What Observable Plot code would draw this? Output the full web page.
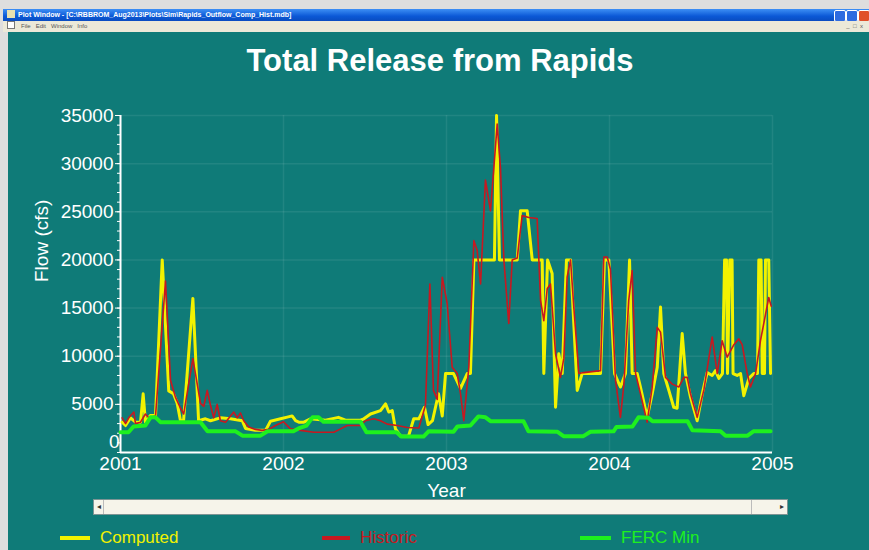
<!DOCTYPE html>
<html><head><meta charset="utf-8">
<script src="https://cdn.jsdelivr.net/npm/d3@7"></script>
<script src="https://cdn.jsdelivr.net/npm/@observablehq/plot@0.6"></script>
<style>
body{margin:0;background:#dcdcdc;}
#wrap{position:relative;width:869px;height:550px;overflow:hidden;background:#dedede;font-family:"Liberation Sans",Arial,sans-serif;}
#titlebar{position:absolute;left:3px;top:9px;width:866px;height:12px;background:linear-gradient(#3d8ff5,#0b58d6 60%,#0a4cc0);color:#fff;font-size:7px;font-weight:bold;line-height:12px;white-space:nowrap;}
#titlebar .ico{display:inline-block;width:8px;height:8px;background:#e8e0b0;margin:0 3px 0 4px;vertical-align:-1px;}
#menubar{position:absolute;left:3px;top:21px;width:866px;height:11px;background:#ece9d8;color:#555;font-size:6px;line-height:11px;white-space:nowrap;}
#menubar .ico{display:inline-block;width:6px;height:6px;border:1px solid #777;background:#fff;margin:0 6px 0 4px;vertical-align:-1px;}
#teal{position:absolute;left:8px;top:32px;right:0;bottom:0;background:#0f7b78;}
.btn{position:absolute;top:10px;width:10px;height:10px;border:1px solid #fff;border-radius:2px;background:#2d6be0;}
#title{position:absolute;left:0;width:880px;top:45px;text-align:center;color:#fff;font-size:31px;font-weight:bold;line-height:31px;}
#chart{position:absolute;left:0;top:90px;}
#scroll{position:absolute;left:93px;top:499px;width:695px;height:16px;background:#f6f4ea;border:1px solid #7d9494;box-sizing:border-box;}
#scroll .l{position:absolute;left:0;top:0;width:9px;height:14px;border-right:1px solid #bbb;font-size:8px;color:#333;text-align:center;line-height:14px;}
#scroll .r{position:absolute;left:657px;top:0;width:36px;height:14px;border-left:1px solid #bbb;font-size:8px;color:#333;text-align:right;line-height:14px;padding-right:3px;box-sizing:border-box;}
.leg{position:absolute;top:528px;font-size:17px;line-height:20px;white-space:nowrap;}
.sw{position:absolute;top:536px;height:4px;}
</style></head>
<body>
<div id="wrap">
  <div id="titlebar"><span class="ico"></span>Plot Window - [C:\RBBROM_Aug2013\Plots\Sim\Rapids_Outflow_Comp_Hist.mdb]</div>
  <div class="btn" style="left:834px"></div>
  <div class="btn" style="left:846px"></div>
  <div class="btn" style="left:858px;background:#e0502a"></div>
  <div id="menubar"><span class="ico"></span>File&nbsp;&nbsp;&nbsp;Edit&nbsp;&nbsp;&nbsp;Window&nbsp;&nbsp;&nbsp;Info<span style="position:absolute;right:6px">_&nbsp;&nbsp;&#9633;&nbsp;&nbsp;x</span></div>
  <div id="teal"></div>
  <div id="title">Total Release from Rapids</div>
  <div id="chart"></div>
  <div id="scroll"><div class="l">&#9666;</div><div class="r">&#9656;</div></div>
  <div class="sw" style="left:60px;width:30px;background:#f2f200"></div>
  <div class="leg" style="left:100px;color:#f2f200">Computed</div>
  <div class="sw" style="left:322px;width:28px;background:#c81820"></div>
  <div class="leg" style="left:360px;color:#c81820">Historic</div>
  <div class="sw" style="left:580px;width:31px;background:#1ef01e"></div>
  <div class="leg" style="left:621px;color:#1ef01e">FERC Min</div>
</div>
<script>
// ---- data (decimal year, flow in cfs) ----
const seriesNames = ["Computed", "Historic", "FERC Min"];
const yearTicks = [2001, 2002, 2003, 2004, 2005];
const flowTicks = [0, 5000, 10000, 15000, 20000, 25000, 30000, 35000];

const computedYear = [2001.010,2001.031,2001.061,2001.092,2001.123,2001.139,2001.153,2001.184,2001.215,2001.256,2001.296,2001.325,2001.348,2001.368,2001.387,2001.444,2001.479,2001.521,2001.552,2001.613,2001.675,2001.747,2001.767,2001.828,2001.890,2001.920,2001.982,2002.023,2002.053,2002.074,2002.094,2002.125,2002.166,2002.258,2002.337,2002.380,2002.472,2002.493,2002.534,2002.595,2002.626,2002.646,2002.667,2002.687,2002.718,2002.767,2002.799,2002.830,2002.865,2002.887,2002.914,2002.951,2002.974,2002.994,2003.043,2003.086,2003.127,2003.147,2003.168,2003.294,2003.307,2003.325,2003.434,2003.454,2003.495,2003.526,2003.587,2003.597,2003.620,2003.648,2003.669,2003.689,2003.710,2003.736,2003.761,2003.802,2003.832,2003.945,2003.969,2003.996,2004.031,2004.067,2004.098,2004.123,2004.139,2004.170,2004.190,2004.231,2004.262,2004.293,2004.313,2004.333,2004.364,2004.394,2004.415,2004.446,2004.466,2004.497,2004.538,2004.569,2004.599,2004.630,2004.650,2004.671,2004.693,2004.706,2004.718,2004.724,2004.738,2004.752,2004.758,2004.783,2004.804,2004.824,2004.855,2004.885,2004.908,2004.916,2004.930,2004.937,2004.951,2004.957,2004.977,2004.988];
const computedFlow = [3150,2800,3600,3150,3150,6100,3150,3850,3850,20000,6400,6100,5100,3300,3300,16000,3300,3500,3300,3600,3500,3300,2500,2300,2300,3250,3500,3670,3800,3300,3150,3150,3500,3350,3650,3350,3350,3500,4000,4350,5050,4200,4350,2450,1700,1700,3500,3500,4700,2900,3300,6100,3800,8200,8200,6650,8200,8200,20000,20000,35000,20000,20000,25100,25100,20000,20000,8200,20000,18600,4700,10250,8200,20000,20000,6450,8200,8200,20000,20000,8200,6800,8200,20000,8200,8200,6800,3650,6100,8850,15100,8200,6450,4700,4600,12350,8200,5750,3300,6100,8300,8000,8500,7700,8200,20000,20000,8200,20000,20000,8200,8000,8200,5900,7700,8200,8200,20000,20000,8200,8200,20000,20000,8200];

const historicYear = [2001.010,2001.031,2001.051,2001.082,2001.092,2001.123,2001.153,2001.174,2001.215,2001.276,2001.307,2001.337,2001.368,2001.388,2001.444,2001.491,2001.511,2001.532,2001.552,2001.572,2001.593,2001.613,2001.644,2001.695,2001.716,2001.736,2001.756,2001.787,2001.828,2001.869,2001.910,2001.951,2002.000,2002.043,2002.104,2002.186,2002.309,2002.350,2002.391,2002.472,2002.503,2002.554,2002.595,2002.636,2002.698,2002.759,2002.830,2002.871,2002.898,2002.920,2002.943,2002.974,2003.004,2003.035,2003.066,2003.086,2003.106,2003.137,2003.168,2003.188,2003.209,2003.239,2003.270,2003.311,2003.331,2003.352,2003.382,2003.403,2003.434,2003.464,2003.505,2003.556,2003.577,2003.597,2003.618,2003.638,2003.669,2003.699,2003.720,2003.740,2003.761,2003.781,2003.812,2003.842,2003.945,2003.965,2003.986,2004.006,2004.037,2004.067,2004.088,2004.118,2004.139,2004.160,2004.190,2004.231,2004.262,2004.293,2004.313,2004.344,2004.385,2004.425,2004.456,2004.477,2004.497,2004.538,2004.579,2004.630,2004.661,2004.691,2004.722,2004.763,2004.793,2004.814,2004.845,2004.865,2004.896,2004.926,2004.977,2004.992];
const historicFlow = [3600,3000,3600,4200,3000,3150,4000,3600,3800,17800,7500,5750,4600,4000,9750,5100,4800,6450,4900,3600,5000,3300,3150,4200,3600,4100,3300,2650,2400,2300,2400,2800,3200,2450,2300,2100,2100,2450,2800,2800,3300,3500,3300,2950,2800,2600,2550,4900,17500,6450,5500,18200,15500,8850,8200,6100,3300,8850,22000,21000,17500,28300,25100,34100,29600,20000,13400,20000,20200,24600,24400,24300,15800,13700,17000,17500,10250,7800,9800,18200,20000,15100,8200,8300,8500,20300,20300,19000,7500,3650,7000,15800,18900,8200,6100,3150,6800,13000,12500,7800,7100,6800,7800,7800,6100,3650,6500,12000,8200,11600,9900,11200,11800,11200,8200,6800,8200,11600,16100,15200];

const fercYear = [2001.000,2001.049,2001.080,2001.153,2001.184,2001.215,2001.245,2001.491,2001.534,2001.706,2001.748,2001.859,2001.902,2002.061,2002.092,2002.141,2002.178,2002.215,2002.245,2002.472,2002.509,2002.693,2002.724,2002.859,2002.890,2003.043,2003.067,2003.147,2003.196,2003.239,2003.270,2003.472,2003.503,2003.681,2003.718,2003.840,2003.883,2004.025,2004.043,2004.141,2004.178,2004.239,2004.264,2004.479,2004.509,2004.681,2004.712,2004.847,2004.883,2004.988];
const fercFlow = [2100,2100,2700,2800,3650,3650,3150,3150,2200,2200,1750,1750,2200,2200,2500,2800,3650,3650,3200,3200,2100,2100,1650,1650,2200,2150,2700,2800,3750,3650,3250,3250,2200,2150,1700,1700,2150,2200,2650,2700,3650,3600,3250,3250,2300,2200,1750,1750,2200,2200];

const seriesColors = ["#f2f200", "#c81820", "#1ef01e"];

const toRows = (xs, ys, name) => xs.map((x, i) => ({year: x, flow: ys[i], series: name}));
const computed = toRows(computedYear, computedFlow, seriesNames[0]);
const historic = toRows(historicYear, historicFlow, seriesNames[1]);
const ferc = toRows(fercYear, fercFlow, seriesNames[2]);

const chart = Plot.plot({
  width: 869,
  height: 405,
  marginLeft: 120,
  marginRight: 97,
  marginTop: 25,
  marginBottom: 43,
  style: {background: "transparent", color: "#ffffff", fontFamily: "'Liberation Sans', Arial, sans-serif", fontSize: "19px", overflow: "visible"},
  x: {domain: [2001, 2005]},
  y: {domain: [0, 35000]},
  marks: [
    Plot.gridY(flowTicks, {stroke: "#ffffff", strokeOpacity: 0.08, strokeWidth: 1.5}),
    Plot.gridX(yearTicks, {stroke: "#ffffff", strokeOpacity: 0.08, strokeWidth: 1.5}),
    Plot.axisY({ticks: 35, tickSize: 3, tickFormat: () => "", label: null, stroke: "#ffffff", strokeWidth: 1}),
    Plot.axisY(flowTicks.filter(d => d > 0), {tickSize: 5, tickPadding: 2, tickFormat: "d", label: null, fill: "#ffffff"}),
    Plot.axisY(flowTicks.filter(d => d === 0), {tickSize: 0, tickPadding: 4, tickFormat: "d", dy: -11, dx: 3, label: null, fill: "#ffffff"}),
    Plot.axisX(yearTicks, {tickSize: 0, tickPadding: 4, tickFormat: "d", label: null, fill: "#ffffff"}),
    Plot.ruleX([2001], {stroke: "#ffffff", strokeWidth: 2}),
    Plot.ruleY([0], {stroke: "#ffffff", strokeWidth: 2}),
    Plot.text(["Flow (cfs)"], {frameAnchor: "left", dx: -79, dy: -2, rotate: -90, fill: "#ffffff", fontSize: 19}),
    Plot.text(["Year"], {frameAnchor: "bottom", dy: 38, lineAnchor: "middle", fill: "#ffffff", fontSize: 19}),
    Plot.line(computed, {x: "year", y: "flow", stroke: seriesColors[0], strokeWidth: 3, strokeLinejoin: "round"}),
    Plot.line(historic, {x: "year", y: "flow", stroke: seriesColors[1], strokeWidth: 1.6, strokeLinejoin: "round"}),
    Plot.line(ferc, {x: "year", y: "flow", stroke: seriesColors[2], strokeWidth: 4, strokeLinejoin: "round"})
  ]
});
document.getElementById("chart").appendChild(chart);
</script>
</body></html>
